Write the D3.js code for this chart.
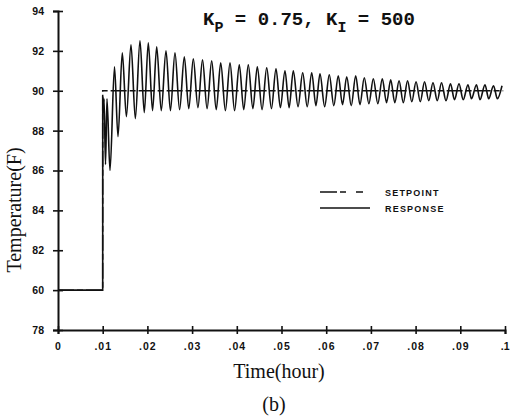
<!DOCTYPE html>
<html>
<head>
<meta charset="utf-8">
<script src="https://cdn.jsdelivr.net/npm/d3@7"></script>
<style>
  body { margin: 0; background: #fff; }
  svg { display: block; }
  .tick text { font-family: "Liberation Sans", Arial, sans-serif; font-weight: bold; font-size: 10.5px; fill: #111; }
</style>
</head>
<body>
<div id="chart"></div>
<script>
// ---- data ----
const yTicks = [78, 80, 82, 84, 86, 88, 90, 92, 94];
const yTickLabels = ["78", "60", "82", "84", "86", "88", "90", "92", "94"];
const xTicks = [0, 0.01, 0.02, 0.03, 0.04, 0.05, 0.06, 0.07, 0.08, 0.09, 0.1];
const xTickLabels = ["0", ".01", ".02", ".03", ".04", ".05", ".06", ".07", ".08", ".09", ".1"];

const setpoint = [[0, 80], [0.01, 80], [0.01, 90], [0.0996, 90]];

// start-up part of the response
const transient = [
  [0, 80], [0.0100, 80], [0.01001, 89.7], [0.01022, 88.9], [0.01030, 89.6],
  [0.01063, 86.3], [0.01096, 89.6], [0.01163, 86.0]
];

// oscillation tops
const peaks = [
  [0.01264, 91.2], [0.01438, 91.9], [0.01633, 92.3], [0.01834, 92.5], [0.02020, 92.4],
  [0.02208, 92.2], [0.02416, 92.0], [0.02617, 91.9], [0.02826, 91.7], [0.03027, 91.6],
  [0.03233, 91.55], [0.03438, 91.5], [0.03640, 91.4], [0.03848, 91.4], [0.04056, 91.3],
  [0.04257, 91.3], [0.04459, 91.2], [0.04669, 91.15], [0.04877, 91.1], [0.05078, 91.0],
  [0.05264, 91.0], [0.05474, 90.9], [0.05676, 90.9], [0.05861, 90.85], [0.06069, 90.8],
  [0.06270, 90.75], [0.06459, 90.7], [0.06660, 90.75], [0.06852, 90.65], [0.07054, 90.6],
  [0.07255, 90.6], [0.07443, 90.55], [0.07630, 90.5], [0.07820, 90.5], [0.08010, 90.45],
  [0.08200, 90.45], [0.08389, 90.4], [0.08580, 90.4], [0.08781, 90.35], [0.08971, 90.35],
  [0.09172, 90.3], [0.09362, 90.3], [0.09553, 90.3], [0.09743, 90.25], [0.09933, 90.25]
];

// oscillation bottoms
const troughs = [
  [0.01342, 87.7], [0.01530, 88.7], [0.01730, 88.6], [0.01930, 88.9], [0.02115, 89.0],
  [0.02310, 89.0], [0.02515, 89.0], [0.02720, 89.05], [0.02925, 89.1], [0.03130, 89.15],
  [0.03335, 89.1], [0.03540, 89.05], [0.03745, 89.0], [0.03950, 89.0], [0.04155, 89.05],
  [0.04360, 89.1], [0.04565, 89.05], [0.04775, 89.1], [0.04975, 89.15], [0.05170, 89.15],
  [0.05370, 89.2], [0.05575, 89.2], [0.05770, 89.25], [0.05965, 89.2], [0.06170, 89.25],
  [0.06365, 89.3], [0.06560, 89.25], [0.06755, 89.3], [0.06955, 89.35], [0.07155, 89.35],
  [0.07350, 89.4], [0.07535, 89.4], [0.07725, 89.4], [0.07915, 89.45], [0.08105, 89.45],
  [0.08295, 89.5], [0.08485, 89.5], [0.08680, 89.5], [0.08870, 89.55], [0.09065, 89.55],
  [0.09250, 89.6], [0.09440, 89.55], [0.09635, 89.6], [0.09830, 89.6]
];

const response = transient.concat(peaks, troughs).sort((a, b) => a[0] - b[0]);

// ---- svg ----
const W = 510, H = 420;
const svg = d3.select("#chart").append("svg")
    .attr("width", W)
    .attr("height", H);

const x = d3.scaleLinear().domain([0, 0.1]).range([58, 505]);
const y = d3.scaleLinear().domain([78, 94]).range([330, 11]);

// axes
const yAxis = svg.append("g")
    .attr("transform", "translate(58,0)")
    .call(d3.axisLeft(y).tickValues(yTicks).tickFormat((d, i) => yTickLabels[i]).tickSize(5).tickPadding(9));
yAxis.select(".domain").attr("stroke", "#111").attr("stroke-width", 2);
yAxis.selectAll(".tick line").attr("x1", 5).attr("x2", -5).attr("stroke", "#111").attr("stroke-width", 1.6);

const xAxis = svg.append("g")
    .attr("transform", "translate(0,330)")
    .call(d3.axisBottom(x).tickValues(xTicks).tickFormat((d, i) => xTickLabels[i]).tickSize(4).tickPadding(9));
xAxis.select(".domain").attr("stroke", "#111").attr("stroke-width", 2);
xAxis.selectAll(".tick line").attr("y1", -4).attr("y2", 4).attr("stroke", "#111").attr("stroke-width", 1.6);
xAxis.selectAll(".tick text").attr("letter-spacing", "1px");
// last label sits at the right edge, keep it inside the window
xAxis.selectAll(".tick text").filter((d, i) => i === xTicks.length - 1)
    .attr("text-anchor", "end").attr("letter-spacing", "0px").attr("dx", 4);

// lines
const line = d3.line()
    .x(d => x(d[0]))
    .y(d => y(d[1]));

svg.append("path")
    .datum(setpoint)
    .attr("fill", "none")
    .attr("stroke", "#111")
    .attr("stroke-width", 1.5)
    .attr("stroke-dasharray", "16,3,6,3")
    .attr("d", line);

svg.append("path")
    .datum(response)
    .attr("fill", "none")
    .attr("stroke", "#111")
    .attr("stroke-width", 1.6)
    .attr("d", line.curve(d3.curveMonotoneX));

// title
const title = svg.append("text")
    .attr("x", 203)
    .attr("y", 25)
    .attr("font-family", "Liberation Mono, monospace")
    .attr("font-weight", "bold")
    .attr("font-size", 19)
    .attr("fill", "#111");
title.append("tspan").text("K");
title.append("tspan").attr("dy", 7).attr("font-size", 15).text("P");
title.append("tspan").attr("dy", -7).text(" = 0.75, K");
title.append("tspan").attr("dy", 7).attr("font-size", 15).text("I");
title.append("tspan").attr("dy", -7).text(" = 500");

// legend
const legend = [
  { name: "SETPOINT", dash: "17,3,6,10,7,40", y: 192 },
  { name: "RESPONSE", dash: null, y: 208 }
];
legend.forEach(l => {
  svg.append("line")
      .attr("x1", 320).attr("x2", 370)
      .attr("y1", l.y).attr("y2", l.y)
      .attr("stroke", "#111")
      .attr("stroke-width", 1.5)
      .attr("stroke-dasharray", l.dash);
  svg.append("text")
      .attr("x", 385)
      .attr("y", l.y + 3.5)
      .attr("font-family", "Liberation Sans, Arial, sans-serif")
      .attr("font-weight", "bold")
      .attr("font-size", 9)
      .attr("letter-spacing", "1.2px")
      .attr("fill", "#111")
      .text(l.name);
});

// axis titles
svg.append("text")
    .attr("transform", "translate(21,210) rotate(-90)")
    .attr("text-anchor", "middle")
    .attr("font-family", "Liberation Serif, Times New Roman, serif")
    .attr("font-size", 20)
    .attr("fill", "#111")
    .text("Temperature(F)");

svg.append("text")
    .attr("x", 279)
    .attr("y", 378)
    .attr("text-anchor", "middle")
    .attr("font-family", "Liberation Serif, Times New Roman, serif")
    .attr("font-size", 20)
    .attr("fill", "#111")
    .text("Time(hour)");

svg.append("text")
    .attr("x", 274)
    .attr("y", 411)
    .attr("text-anchor", "middle")
    .attr("font-family", "Liberation Serif, Times New Roman, serif")
    .attr("font-size", 20)
    .attr("fill", "#111")
    .text("(b)");
</script>
</body>
</html>
